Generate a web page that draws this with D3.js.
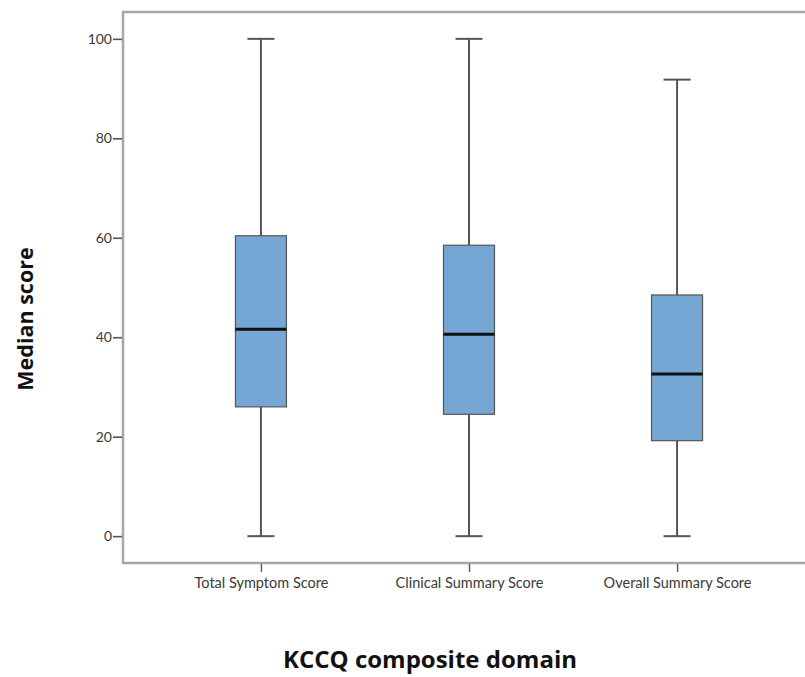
<!DOCTYPE html>
<html><head><meta charset="utf-8">
<script src="https://cdn.jsdelivr.net/npm/d3@7/dist/d3.min.js"></script>
<style>body{margin:0;background:#fff}svg{display:block}</style>
</head><body>
<svg id="c" width="805" height="677"></svg>
<script>
const categories = ["Total Symptom Score","Clinical Summary Score","Overall Summary Score"];
const whiskerLow = [0, 0, 0];
const q1 = [26.0, 24.5, 19.2];
const median = [41.6, 40.6, 32.6];
const q3 = [60.4, 58.5, 48.5];
const whiskerHigh = [100, 100, 91.8];
const yTicks = [0, 20, 40, 60, 80, 100];

const svg = d3.select("#c");
const L = 123, T = 12, R = 815, B = 563;
const y = d3.scaleLinear().domain([-5.4, 105.4]).range([B, T]);
const x = d3.scalePoint().domain(categories).range([L, R]).padding(0.663);
const boxW = 51, capW = 27;

// frame
svg.append("rect").attr("x", L).attr("y", T).attr("width", R - L).attr("height", B - T)
  .attr("fill", "none").attr("stroke", "#a6a6a6").attr("stroke-width", 2.5);

// y axis ticks
const ya = svg.append("g").attr("transform", `translate(${L-1},0)`)
  .call(d3.axisLeft(y).tickValues(yTicks).tickSize(9).tickPadding(1).tickFormat(d3.format("d")));
ya.select(".domain").remove();
ya.selectAll("line").attr("stroke", "#555").attr("stroke-width", 1.6);
ya.selectAll("text").attr("font-family", "Lato, 'Open Sans', sans-serif").attr("font-size", 14).attr("fill", "#3a3a3a");

// x axis ticks
const xa = svg.append("g").attr("transform", `translate(0,${B+1})`)
  .call(d3.axisBottom(x).tickSize(8).tickPadding(6));
xa.select(".domain").remove();
xa.selectAll("line").attr("stroke", "#555").attr("stroke-width", 1.4);
xa.selectAll("text").attr("font-family", "Lato, 'Open Sans', sans-serif").attr("font-size", 14.5).attr("fill", "#3a3a3a");

// boxes
const data = categories.map((c, i) => ({c, lo: whiskerLow[i], q1: q1[i], med: median[i], q3: q3[i], hi: whiskerHigh[i]}));
const g = svg.append("g");
const bx = g.selectAll("g.box").data(data).join("g").attr("class", "box");
bx.append("line").attr("x1", d => x(d.c)).attr("x2", d => x(d.c))
  .attr("y1", d => y(d.hi)).attr("y2", d => y(d.q3)).attr("stroke", "#555").attr("stroke-width", 2);
bx.append("line").attr("x1", d => x(d.c)).attr("x2", d => x(d.c))
  .attr("y1", d => y(d.q1)).attr("y2", d => y(d.lo)).attr("stroke", "#555").attr("stroke-width", 2);
bx.append("line").attr("x1", d => x(d.c) - capW/2).attr("x2", d => x(d.c) + capW/2)
  .attr("y1", d => y(d.hi)).attr("y2", d => y(d.hi)).attr("stroke", "#555").attr("stroke-width", 2);
bx.append("line").attr("x1", d => x(d.c) - capW/2).attr("x2", d => x(d.c) + capW/2)
  .attr("y1", d => y(d.lo)).attr("y2", d => y(d.lo)).attr("stroke", "#555").attr("stroke-width", 2);
bx.append("rect").attr("x", d => x(d.c) - boxW/2).attr("width", boxW)
  .attr("y", d => y(d.q3)).attr("height", d => y(d.q1) - y(d.q3))
  .attr("fill", "#76a6d4").attr("stroke", "#555").attr("stroke-width", 1.2);
bx.append("line").attr("x1", d => x(d.c) - boxW/2).attr("x2", d => x(d.c) + boxW/2)
  .attr("y1", d => y(d.med)).attr("y2", d => y(d.med)).attr("stroke", "#111").attr("stroke-width", 3);

// titles
svg.append("text").attr("transform", "translate(33,319) rotate(-90)").attr("text-anchor", "middle")
  .attr("font-family", "'Open Sans', sans-serif").attr("font-weight", "bold").attr("font-size", 21.5)
  .attr("fill", "#111").text("Median score");
svg.append("text").attr("x", 430).attr("y", 668).attr("text-anchor", "middle")
  .attr("font-family", "'Open Sans', sans-serif").attr("font-weight", "bold").attr("font-size", 24)
  .attr("fill", "#111").text("KCCQ composite domain");
</script>
</body></html>
